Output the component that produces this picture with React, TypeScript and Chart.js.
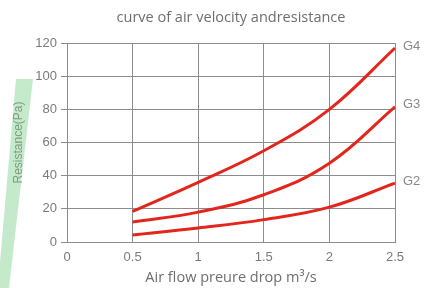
import React, { useEffect, useRef } from "react";
import { Chart, registerables } from "chart.js";

Chart.register(...registerables);

const flow = [0.5, 1, 1.5, 2, 2.5];
const g4 = [18.5, 36, 55, 80, 117];
const g3 = [12, 18, 28.5, 47.5, 81.5];
const g2 = [4.2, 8.4, 13.5, 21, 35.5];
const seriesNames = ["G4", "G3", "G2"];
const yTicks = [0, 20, 40, 60, 80, 100, 120];
const xTicks = [0, 0.5, 1, 1.5, 2, 2.5];
const chartTitle = "curve of air velocity andresistance";

const RED = "#e3261d";
const GRID = "#8c8c8c";
const TEXT = "#7a7a7a";

const decoPlugin = {
  id: "deco",
  beforeDraw(chart: any) {
    const ctx = chart.ctx;
    ctx.save();
    ctx.fillStyle = "rgba(150, 215, 160, 0.55)";
    ctx.beginPath();
    ctx.moveTo(16, 79);
    ctx.lineTo(33, 79);
    ctx.lineTo(9, 288);
    ctx.lineTo(0, 288);
    ctx.lineTo(0, 262);
    ctx.closePath();
    ctx.fill();
    ctx.restore();
  },
  afterDatasetsDraw(chart: any) {
    const ctx = chart.ctx;
    const xs = chart.scales.x;
    const ys = chart.scales.y;
    const area = chart.chartArea;
    ctx.save();
    ctx.fillStyle = "#6e6e6e";
    ctx.font = "14.5px 'Open Sans', sans-serif";
    ctx.textAlign = "center";
    ctx.textBaseline = "middle";
    ctx.fillText(chartTitle, (area.left + area.right) / 2, 18);
    ctx.fillStyle = "#888888";
    ctx.font = "13px 'Liberation Sans', Arial, sans-serif";
    ctx.textAlign = "left";
    chart.data.datasets.forEach((ds: any) => {
      const last = ds.data[ds.data.length - 1];
      const px = xs.getPixelForValue(last.x) + 8;
      const py = ys.getPixelForValue(last.y) - 2;
      ctx.fillText(ds.label, px, py);
    });
    ctx.restore();
  },
};

export default function App() {
  const ref = useRef<HTMLCanvasElement>(null);
  useEffect(() => {
    if (!ref.current) return;
    const mk = (vals: number[]) => flow.map((x, i) => ({ x, y: vals[i] }));
    const chart = new Chart(ref.current, {
      type: "line",
      data: {
        datasets: [g4, g3, g2].map((vals, i) => ({
          label: seriesNames[i],
          data: mk(vals),
          borderColor: RED,
          borderWidth: 3,
          pointRadius: 0,
          tension: 0.4,
          fill: false,
        })),
      },
      options: {
        responsive: false,
        animation: false,
        layout: { padding: { top: 43, right: 29, left: 0, bottom: 0 } },
        plugins: {
          legend: { display: false },
          tooltip: { enabled: false },
          title: { display: false },
        },
        scales: {
          x: {
            type: "linear",
            min: 0,
            max: 2.5,
            afterBuildTicks: (s: any) => {
              s.ticks = xTicks.map((v) => ({ value: v }));
            },
            afterFit: (s: any) => {
              s.height = 46;
            },
            ticks: {
              color: TEXT,
              font: { family: "'Liberation Sans', Arial, sans-serif", size: 13 },
              padding: 8,
              maxRotation: 0,
              callback: (v: any) => String(v),
            },
            grid: { color: GRID, lineWidth: 1, drawTicks: false },
            border: { color: GRID, width: 1 },
            title: {
              display: true,
              text: "Air flow preure drop m³/s",
              color: "#6e6e6e",
              font: { family: "'Open Sans', sans-serif", size: 14.5 },
              padding: { top: 0, bottom: 1 },
            },
          },
          y: {
            type: "linear",
            min: 0,
            max: 120,
            afterBuildTicks: (s: any) => {
              s.ticks = yTicks.map((v) => ({ value: v }));
            },
            afterFit: (s: any) => {
              s.width = 67;
            },
            ticks: {
              color: TEXT,
              font: { family: "'Liberation Sans', Arial, sans-serif", size: 13 },
              padding: 4,
            },
            grid: { color: GRID, lineWidth: 1, tickLength: 6 },
            border: { color: GRID, width: 1 },
            title: {
              display: true,
              text: "Resistance(Pa)",
              color: "#7a9a80",
              font: { family: "'Liberation Sans', Arial, sans-serif", size: 12 },
              padding: { top: 11, bottom: 0 },
            },
          },
        },
      },
      plugins: [decoPlugin],
    });
    return () => chart.destroy();
  }, []);
  return (
    <div style={{ position: "absolute", left: 0, top: 0, width: 424, height: 288, background: "#fff" }}>
      <canvas ref={ref} width={424} height={288} />
    </div>
  );
}
